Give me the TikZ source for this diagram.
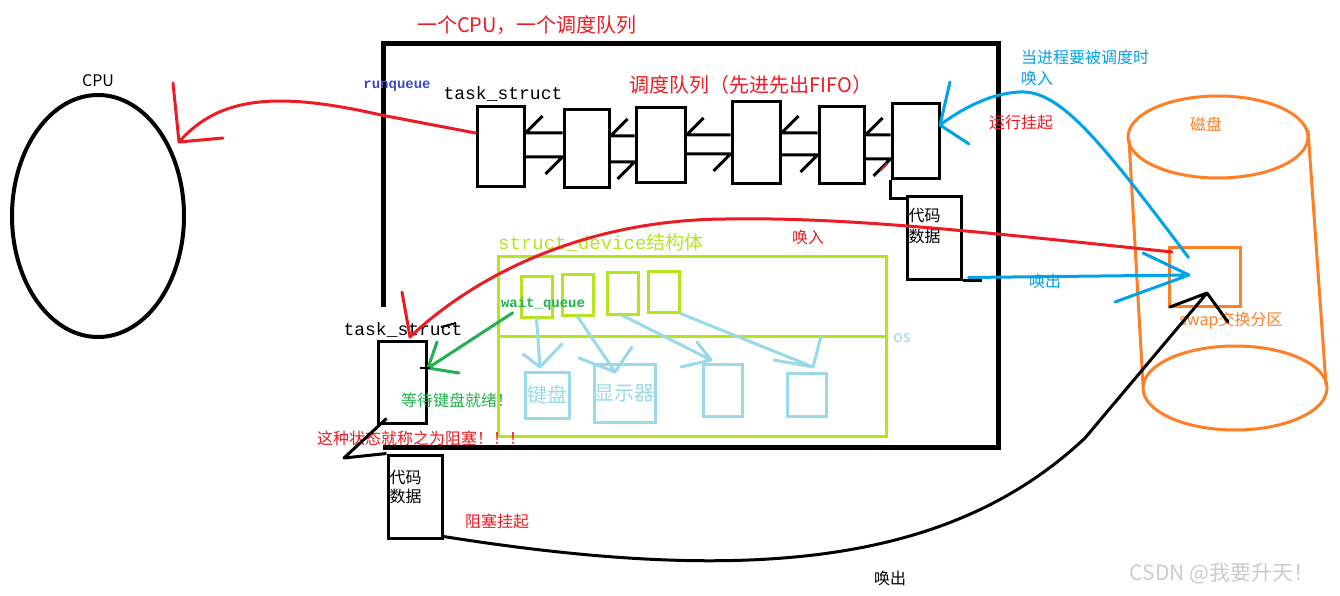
\documentclass[tikz,border=0pt]{standalone}
\usepackage{fontspec}
\setmainfont{Noto Sans CJK SC}
\setmonofont{Liberation Mono}
\usepackage{tikz}
\usetikzlibrary{arrows.meta, positioning, calc, shapes.geometric}
\usepackage{xcolor}
\definecolor{paintred}{RGB}{237,28,36}
\definecolor{paintblue}{RGB}{0,162,232}
\definecolor{rqblue}{RGB}{63,72,204}
\definecolor{limegreen}{RGB}{181,230,29}
\definecolor{waitgreen}{RGB}{34,177,76}
\definecolor{devblue}{RGB}{153,217,234}
\definecolor{diskorange}{RGB}{255,127,39}
\newcommand{\fs}[1]{\fontsize{#1}{#1}\selectfont}

\begin{document}
\begin{tikzpicture}[x=1pt, y=-1pt,
  box/.style={draw, line width=3pt, inner sep=0pt},
  arm/.style={line width=3pt, line cap=round, line join=round},
  lbl/.style={inner sep=0pt, font=\fs{16}}]
  \fill[white] (0,0) rectangle (1340,596);
  \useasboundingbox (0,0) rectangle (1340,596);

  % cpu and the main box
  \node[draw, ellipse, line width=4pt, minimum width=172pt, minimum height=242pt] (cpu) at (98,216) {};
  \node[lbl, above=6pt of cpu] (cpulbl) {CPU};
  \draw[line width=5pt] (383,307) -- (383,44) -- (998,44) -- (998,447) -- (383,447);
  \node[lbl, paintred, font=\fs{20}] (title) at (527,25) {一个CPU，一个调度队列};
  \node[lbl, rqblue, font=\ttfamily\bfseries\fs{14}] (rq) at (397,86) {runqueue};
  \node[lbl, font=\ttfamily\fs{18}] (ts1) at (503,94) {task\_struct};
  \node[lbl, paintred, font=\fs{20}] (fifo) at (751,85) {调度队列（先进先出FIFO）};

  % run queue
  \foreach \n/\cx/\cy/\w/\h in {q1/500.5/147/47/80, q2/586.5/149/45/78, q3/660.5/145.5/49/75,
      q4/756/143/48/82, q5/841.5/145.5/45/77, q6/915.5/141.5/47/75}
    \node[box, minimum width=\w, minimum height=\h] (\n) at (\cx,\cy) {};
  \foreach \a/\b/\u/\l in {q1/q2/133/157, q2/q3/136/162, q3/q4/135/154, q4/q5/133/155, q5/q6/135/159} {
    \draw[arm, line cap=butt] (\b.west |- 0,\u) -- (\a.east |- 0,\u) -- ++(17,-17);
    \draw[arm, line cap=butt] (\a.east |- 0,\l) -- (\b.west |- 0,\l) -- ++(-17,17);
  }
  \draw[paintred, line width=2pt] ($(q6.south west)+(-10,-10)$) -- ++(7,-7);

  % code and data of the running task
  \node[box, minimum width=54, minimum height=83] (cd1) at (934,237.5) {};
  \node[lbl, anchor=north west, align=left, font=\fs{16}] at ($(cd1.north west)+(3,14)$) {代码\\[5pt]数据};
  \draw[line width=3pt] (q6.south west) |- ($(cd1.north west)+(0,4)$);
  \draw[line width=3pt] (cd1.south east) -- ++(19,0);

  % struct_device
  \node[draw=limegreen, line width=3pt, inner sep=0pt, minimum width=388, minimum height=180] (dev) at (692,346) {};
  \draw[limegreen, line width=3pt] (dev.west |- 0,336) -- (dev.east |- 0,336);
  \node[lbl, limegreen, anchor=south west, font=\fs{19}] (devlbl) at (498,252) {\texttt{struct\_device}结构体};
  \node[lbl, devblue] (os) at (902,338) {os};
  \foreach \n/\cx/\cy/\w/\h in {w1/536.5/296.5/31/41, w2/577.5/294.5/31/41, w3/622.5/293/31/42, w4/663.5/291.5/31/41}
    \node[draw=limegreen, line width=3pt, inner sep=0pt, minimum width=\w, minimum height=\h] (\n) at (\cx,\cy) {};
  \node[lbl, waitgreen, font=\ttfamily\bfseries\fs{14}] (wq) at (543,304) {wait\_queue};
  \node[draw=devblue, line width=3pt, inner sep=0pt, minimum width=44, minimum height=46,
    text=devblue, font=\fs{20}] (k1) at (547,395) {键盘};
  \node[draw=devblue, line width=3pt, inner sep=0pt, minimum width=61, minimum height=58,
    text=devblue, font=\fs{20}] (k2) at (624.5,393) {显示器};
  \node[draw=devblue, line width=3pt, minimum width=39, minimum height=52] (k3) at (722.5,390) {};
  \node[draw=devblue, line width=3pt, minimum width=39, minimum height=43] (k4) at (806.5,394.5) {};
  \coordinate (t1) at (540,367);
  \coordinate (t2) at (615,372);
  \coordinate (t3) at (711,360);
  \coordinate (t4) at (813,367);
  \begin{scope}[devblue]
    \draw[arm] (w1.south) -- (t1) -- ++(-17,-13) (t1) -- ++(22,-23);
    \draw[arm] (w2.south) -- (t2) -- ++(-36,-14) (t2) -- ++(17,-25);
    \draw[arm] (w3.south) -- (t3) -- ++(-30,7) (t3) -- ++(-14,-18);
    \draw[arm] (w4.south east) -- (t4) -- ++(-39,-7) (t4) -- ++(8,-31);
  \end{scope}

  % blocked task
  \node[box, minimum width=48, minimum height=82] (ts2) at (402,382) {};
  \node[lbl, font=\ttfamily\fs{18}] (ts2lbl) at (403,330) {task\_struct};
  \draw[line width=2pt] (441,327) -- (456,323);
  \coordinate (gtip) at (428,368);
  \draw[arm, waitgreen] (wq.south west) ++(12,2) -- (gtip) -- ++(9,-26) (gtip) -- ++(31,5);
  \draw[line width=2pt] ($(gtip)+(-8,0)$) -- ++(10,0);
  \node[lbl, waitgreen] (wait) at (457,400) {等待键盘就绪！};
  \node[lbl, paintred] (blk) at (421,438) {这种状态就称之为阻塞！！！};
  \node[box, minimum width=54, minimum height=83] (cd2) at (415,496.5) {};
  \node[lbl, anchor=north west, align=left] at ($(cd2.north west)+(3,17)$) {代码\\[3pt]数据};
  \coordinate (hook) at (344,458);
  \draw[line width=3pt, line join=round] ($(ts2.south west)+(10,-6)$) -- (hook) -- (cd2.north west);
  \node[lbl, paintred] (bsus) at (497,521) {阻塞挂起};

  % disk
  \begin{scope}[diskorange, line width=3pt]
    \draw (1218,137) ellipse [x radius=90, y radius=41];
    \draw (1235,388) ellipse [x radius=92, y radius=42];
    \draw (1129,140) -- (1143,385);
    \draw (1308,130) -- (1326,385);
  \end{scope}
  \node[lbl, diskorange] (disk) at (1206,124) {磁盘};
  \node[draw=diskorange, line width=3pt, minimum width=71, minimum height=59] (swap) at (1204.5,276.5) {};
  \node[lbl, diskorange] (swaplbl) at (1231,321) {swap交换分区};

  % swapping
  \coordinate (cputip) at (179,142);
  \draw[paintred, arm] (q1.west |- 0,133) -- (381,115) .. controls (280,92) and (220,95) .. (cputip)
    -- ++(-6,-59) (cputip) -- ++(44,-4);
  \coordinate (swin) at (1172,252);
  \coordinate (tstip) at (410,337);
  \draw[paintred, arm] (swin) .. controls (1000,234) and (850,217) .. (733,219)
    .. controls (580,218) and (470,280) .. (tstip) -- ++(-8,-45);
  \node[lbl, paintred] (in2) at (808,237) {唤入};
  \coordinate (btip1) at (940,125);
  \draw[paintblue, arm] ($(swap.center)+(-16,-19)$) .. controls (1100,140) and (1060,90) .. (1020,92)
    .. controls (990,93) and (960,110) .. (btip1) -- ++(10,-43) (btip1) -- ++(29,19);
  \node[lbl, paintblue, anchor=north west, align=left, font=\fs{16}] (in1) at (1021,50) {当进程要被调度时\\[5pt]唤入};
  \node[lbl, paintred] (runsus) at (1021,122) {运行挂起};
  \coordinate (btip2) at (1189,275);
  \draw[paintblue, arm] ($(cd1.south east)+(6,-3)$) -- (btip2) -- ++(-46,-22) (btip2) -- ++(-74,27);
  \node[lbl, paintblue] (out1) at (1045,281) {唤出};
  \coordinate (ktip) at (1207,293);
  \draw[arm] ($(cd2.south east)+(0,-3)$) .. controls (750,585) and (950,565) .. (1085,438) -- (ktip)
    -- ++(-37,14) (ktip) -- ++(21,29);
  \node[lbl] (out2) at (890,578) {唤出};
  \node[lbl, black!20, font=\fs{21}] (mark) at (1222,574) {CSDN @我要升天！};
\end{tikzpicture}
\end{document}
